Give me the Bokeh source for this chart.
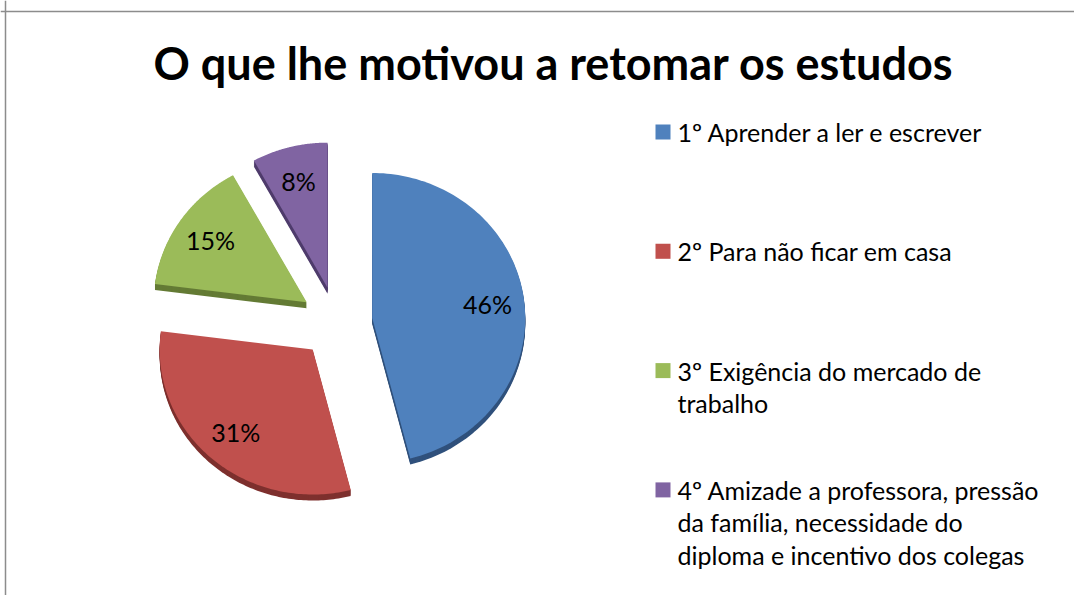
import numpy as np
from bokeh.plotting import figure
from bokeh.models import Range1d, Span
from bokeh.embed import file_html
from bokeh.resources import INLINE
from bokeh.core.properties import value

# ---- data ----
title = "O que lhe motivou a retomar os estudos"
categories = [
    "1º Aprender a ler e escrever",
    "2º Para não ficar em casa",
    "3º Exigência do mercado de trabalho",
    "4º Amizade a professora, pressão da família, necessidade do diploma e incentivo dos colegas",
]
legend_lines = [
    ["1º Aprender a ler e escrever"],
    ["2º Para não ficar em casa"],
    ["3º Exigência do mercado de", "trabalho"],
    ["4º Amizade a professora, pressão", "da família, necessidade do", "diploma e incentivo dos colegas"],
]
values = [46, 31, 15, 8]
labels = ["46%", "31%", "15%", "8%"]
colors = ["#4F81BD", "#C0504D", "#9BBB59", "#8064A2"]
side_colors = ["#30517C", "#7E302E", "#647B35", "#4F3C6C"]

# ---- layout (screen pixel coordinates) ----
W, H = 1074, 595
CX, CY = 336, 322
RX, RY = 153, 145
EXPLODE = 36
DEPTH = 6
LABEL_R = 0.76

FONT = "Lato"

p = figure(width=W, height=H, output_backend="svg", toolbar_location=None,
           x_range=Range1d(0, W), y_range=Range1d(H, 0), min_border=0)
p.axis.visible = False
p.grid.visible = False
p.outline_line_color = None
p.background_fill_color = "white"

# frame
p.add_layout(Span(location=11, dimension="width", line_color="#8C8C8C", line_width=1.5))
p.add_layout(Span(location=5, dimension="height", line_color="#8C8C8C", line_width=1.5))

# ---- pie geometry from values ----
total = float(sum(values))
fracs = np.array(values) / total
ends = np.cumsum(fracs) * 360.0
starts = ends - fracs * 360.0

tops_x, tops_y = [], []
lab_x, lab_y = [], []
for a0, a1 in zip(starts, ends):
    m = np.radians((a0 + a1) / 2)
    vx = CX + EXPLODE * np.sin(m)
    vy = CY - EXPLODE * np.cos(m)
    t = np.radians(np.linspace(a0, a1, 120))
    xs = np.concatenate([[vx], vx + RX * np.sin(t)])
    ys = np.concatenate([[vy], vy - RY * np.cos(t)])
    tops_x.append(xs)
    tops_y.append(ys)
    lab_x.append(vx + LABEL_R * RX * np.sin(m))
    lab_y.append(vy - LABEL_R * RY * np.cos(m))

# 3D sides: stacked shifted copies
for d in range(DEPTH, 0, -1):
    p.patches([list(x) for x in tops_x], [list(y + d) for y in tops_y],
              fill_color=side_colors, line_color=None)

p.patches([list(x) for x in tops_x], [list(y) for y in tops_y],
          fill_color=colors, line_color=None)

# data labels
p.text(x=lab_x, y=lab_y, text=labels, text_font=value(FONT), text_font_size="25px",
       text_align="center", text_baseline="middle", text_color="black")

# title
p.text(x=[553], y=[62], text=[title], text_font=value(FONT), text_font_size="45px",
       text_font_style="bold", text_align="center", text_baseline="middle", text_color="black")

# legend
ROW0, ROW_GAP, LINE_GAP = 131.5, 119.3, 32.5
sq_x, sq_y = [], []
tx, ty, tt = [], [], []
for i, lines in enumerate(legend_lines):
    y0 = ROW0 + i * ROW_GAP
    sq_x.append(662.5)
    sq_y.append(y0)
    for j, ln in enumerate(lines):
        tx.append(677)
        ty.append(y0 + j * LINE_GAP)
        tt.append(ln)
p.scatter(x=sq_x, y=sq_y, marker="square", size=15, fill_color=colors, line_color=None)
p.text(x=tx, y=ty, text=tt, text_font=value(FONT), text_font_size="25px",
       text_align="left", text_baseline="middle", text_color="black")

open("out.html", "w").write(file_html(p, INLINE))
